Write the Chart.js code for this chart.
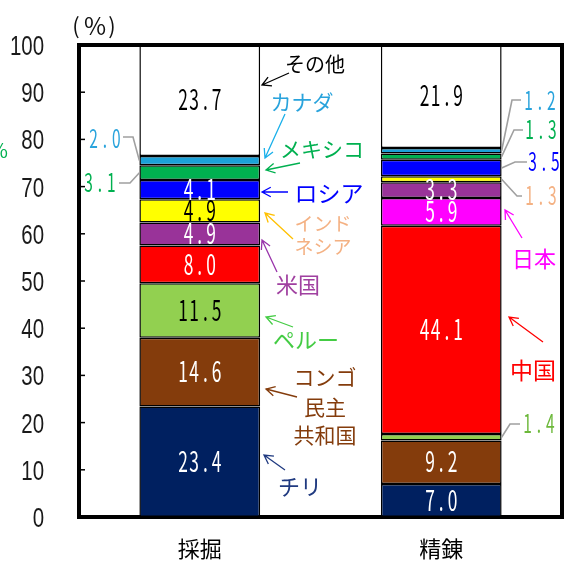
<!DOCTYPE html>
<html lang="ja">
<head>
<meta charset="utf-8">
<script src="https://cdn.jsdelivr.net/npm/chart.js@4"></script>
<style>
html, body { margin: 0; padding: 0; background: #fff; }
</style>
</head>
<body>
<canvas id="myChart" width="565" height="563"></canvas>
<script>
// 工程別の国別シェア（%）
var categories = ['採掘', '精錬'];
var countries = ['チリ', 'コンゴ民主共和国', 'ペルー', '中国', '日本', '米国', 'インドネシア', 'ロシア', 'メキシコ', 'カナダ', 'その他'];
var saikutsu = [23.4, 14.6, 11.5, 8.0, null, 4.9, 4.9, 4.1, 3.1, 2.0, 23.7];
var seiren = [7.0, 9.2, 1.4, 44.1, 5.9, 3.3, 1.3, 3.5, 1.3, 1.2, 21.9];
var yTicks = [0, 10, 20, 30, 40, 50, 60, 70, 80, 90, 100];

var fills = ['#002060', '#843c0c', '#92d050', '#ff0000', '#ff00ff', '#993399', '#ffff00', '#0000ff', '#00b050', '#1ba1d8', '#ffffff'];
var darkText = ['ペルー', 'インドネシア', 'その他'];

// 棒の外に出す値（引き出し線付き）
var outsideLabels = [
  { cat: 0, name: 'カナダ', side: 'left', text: [105, 139], color: '#29a3dc', path: [[133, 137], [123, 137]] },
  { cat: 0, name: 'メキシコ', side: 'left', text: [100, 183], color: '#00b050', path: [[130, 183], [119, 183]] },
  { cat: 1, name: 'カナダ', side: 'right', text: [540, 101], color: '#29a3dc', path: [[512, 100], [521, 100]] },
  { cat: 1, name: 'メキシコ', side: 'right', text: [541, 130], color: '#00b050', path: [[514, 130], [523, 130]] },
  { cat: 1, name: 'ロシア', side: 'right', text: [544, 162], color: '#0000ff', path: [[515, 162], [527, 162]] },
  { cat: 1, name: 'インドネシア', side: 'right', text: [541, 196], color: '#f4b183', path: [[517, 196], [522, 196]] },
  { cat: 1, name: 'ペルー', side: 'right', text: [539, 424], color: '#6cb83a', path: [[510, 424], [520, 424]] }
];

// 国名と矢印
var nameLabels = [
  { lines: ['その他'], x: 315, y: [64], size: 20, color: '#000000', tail: [289, 73], head: [262, 85], arrow: '#000000' },
  { lines: ['カナダ'], x: 302, y: [102], size: 21, color: '#29a3dc', tail: [285, 114], head: [265, 158], arrow: '#1ab0ea' },
  { lines: ['メキシコ'], x: 322, y: [149], size: 21, color: '#00b050', tail: [300, 163], head: [266, 170], arrow: '#00b050' },
  { lines: ['ロシア'], x: 329, y: [193], size: 23, color: '#0000ff', tail: [288, 192], head: [262, 192], arrow: '#0000ff' },
  { lines: ['インド', 'ネシア'], x: 323, y: [224, 247], size: 19, color: '#f4b183', tail: [293, 239], head: [265, 213], arrow: '#ffc000' },
  { lines: ['米国'], x: 298, y: [285], size: 22, color: '#a040a0', tail: [277, 272], head: [262, 240], arrow: '#9933aa' },
  { lines: ['ペルー'], x: 306, y: [340], size: 22, color: '#44cc44', tail: [293, 327], head: [266, 317], arrow: '#44cc44' },
  { lines: ['コンゴ', '民主', '共和国'], x: 325, y: [377, 407, 435], size: 21, color: '#843c0c', tail: [297, 397], head: [266, 389], arrow: '#843c0c' },
  { lines: ['チリ'], x: 300, y: [487], size: 22, color: '#203a80', tail: [285, 470], head: [264, 455], arrow: '#203a80' },
  { lines: ['日本'], x: 534, y: [259], size: 22, color: '#ff00ff', tail: [522, 238], head: [505, 210], arrow: '#ff00ff' },
  { lines: ['中国'], x: 533, y: [370], size: 23, color: '#ff0000', tail: [543, 342], head: [509, 317], arrow: '#ff0000' }
];

var JP = '"Noto Sans CJK JP", "Noto Sans CJK SC", sans-serif';

// 細身の等幅風に数字を描く
function monoText(ctx, s, cx, cy, adv, size, color) {
  ctx.save();
  ctx.fillStyle = color;
  ctx.font = size + 'px ' + JP;
  ctx.textAlign = 'center';
  ctx.textBaseline = 'alphabetic';
  var x0 = cx - adv * s.length / 2;
  for (var i = 0; i < s.length; i++) {
    ctx.save();
    ctx.translate(x0 + adv * (i + 0.5), cy + size * 0.36);
    ctx.scale(0.62, 1);
    ctx.fillText(s[i], 0, 0);
    ctx.restore();
  }
  ctx.restore();
}

function drawArrow(ctx, tail, head, color) {
  var ang = Math.atan2(head[1] - tail[1], head[0] - tail[0]);
  ctx.save();
  ctx.strokeStyle = color;
  ctx.lineWidth = 1.3;
  ctx.beginPath();
  ctx.moveTo(tail[0], tail[1]);
  ctx.lineTo(head[0], head[1]);
  ctx.moveTo(head[0] - 10 * Math.cos(ang - 0.5), head[1] - 10 * Math.sin(ang - 0.5));
  ctx.lineTo(head[0], head[1]);
  ctx.lineTo(head[0] - 10 * Math.cos(ang + 0.5), head[1] - 10 * Math.sin(ang + 0.5));
  ctx.stroke();
  ctx.restore();
}

function isOutside(cat, name) {
  return outsideLabels.some(function (o) { return o.cat === cat && o.name === name; });
}

var annotate = {
  id: 'annotate',
  afterDraw: function (chart) {
    var ctx = chart.ctx;
    var area = chart.chartArea;
    var yScale = chart.scales.y;

    // 枠（上・右）と内向きの目盛り、目盛りの数字
    ctx.save();
    ctx.strokeStyle = '#000';
    ctx.lineWidth = 4;
    ctx.beginPath();
    ctx.moveTo(area.left - 2, area.top);
    ctx.lineTo(area.right, area.top);
    ctx.lineTo(area.right, area.bottom + 2);
    ctx.stroke();
    ctx.lineWidth = 1.5;
    ctx.fillStyle = '#1a1a1a';
    ctx.font = '28px "Liberation Sans", Arial, sans-serif';
    ctx.textAlign = 'right';
    ctx.textBaseline = 'alphabetic';
    yScale.ticks.forEach(function (t, i) {
      var py = yScale.getPixelForTick(i);
      ctx.save();
      ctx.translate(44, py + 10);
      ctx.scale(0.73, 1);
      ctx.fillText(String(t.value), 0, 0);
      ctx.restore();
      if (t.value === 0 || t.value === 100) return;
      ctx.beginPath();
      ctx.moveTo(area.left, py);
      ctx.lineTo(area.left + 6, py);
      ctx.stroke();
    });
    ctx.restore();

    // 単位
    ctx.save();
    ctx.fillStyle = '#111';
    ctx.textAlign = 'center';
    ctx.textBaseline = 'middle';
    ctx.font = '22px ' + JP;
    ctx.fillText('(', 76, 26);
    ctx.fillText(')', 112, 26);
    ctx.font = '24px ' + JP;
    ctx.fillText('%', 95, 26);
    ctx.fillStyle = '#00b050';
    ctx.font = '20px ' + JP;
    ctx.textAlign = 'right';
    ctx.fillText('%', 8, 150);
    ctx.restore();

    // 棒の中の値
    chart.data.datasets.forEach(function (ds, di) {
      var meta = chart.getDatasetMeta(di);
      meta.data.forEach(function (bar, i) {
        var v = ds.data[i];
        if (!v || isOutside(i, ds.label)) return;
        var p = bar.getProps(['x', 'y', 'base'], true);
        var cy = (p.y + p.base) / 2;
        var col = darkText.indexOf(ds.label) >= 0 ? '#000' : '#fff';
        monoText(ctx, v.toFixed(1), p.x, cy, 11.2, 28, col);
      });
    });

    // 引き出し線付きの値
    outsideLabels.forEach(function (o) {
      var di = countries.indexOf(o.name);
      var ds = chart.data.datasets[di];
      var bar = chart.getDatasetMeta(di).data[o.cat];
      var p = bar.getProps(['x', 'y', 'base', 'width'], true);
      var sx = o.side === 'left' ? p.x - p.width / 2 : p.x + p.width / 2;
      var sy = (p.y + p.base) / 2;
      ctx.save();
      ctx.strokeStyle = '#a0a0a0';
      ctx.lineWidth = 1.6;
      ctx.beginPath();
      ctx.moveTo(sx, sy);
      o.path.forEach(function (pt) { ctx.lineTo(pt[0], pt[1]); });
      ctx.stroke();
      ctx.restore();
      monoText(ctx, ds.data[o.cat].toFixed(1), o.text[0], o.text[1], 11.4, 25, o.color);
    });

    // 国名
    nameLabels.forEach(function (n) {
      drawArrow(ctx, n.tail, n.head, n.arrow);
      ctx.save();
      ctx.fillStyle = n.color;
      ctx.font = n.size + 'px ' + JP;
      ctx.textAlign = 'center';
      ctx.textBaseline = 'middle';
      n.lines.forEach(function (line, k) {
        ctx.fillText(line, n.x, n.y[k]);
      });
      ctx.restore();
    });
  }
};

var myChart = new Chart(document.getElementById('myChart').getContext('2d'), {
  type: 'bar',
  data: {
    labels: categories,
    datasets: countries.map(function (c, k) {
      return {
        label: c,
        data: [saikutsu[k], seiren[k]],
        backgroundColor: fills[k],
        borderColor: '#000',
        borderWidth: 1.5,
        borderSkipped: false,
        barPercentage: 0.5,
        categoryPercentage: 1
      };
    })
  },
  options: {
    responsive: false,
    animation: false,
    layout: { padding: { top: 45, right: 3, left: 0, bottom: 0 } },
    plugins: { legend: { display: false }, tooltip: { enabled: false } },
    scales: {
      x: {
        stacked: true,
        grid: { display: false, drawTicks: false },
        border: { display: true, color: '#000', width: 4 },
        ticks: { color: '#000', font: { family: JP, size: 22 }, padding: 18 },
        afterFit: function (s) { s.height = 46; }
      },
      y: {
        stacked: true,
        min: 0,
        max: 100,
        afterBuildTicks: function (s) { s.ticks = yTicks.map(function (v) { return { value: v }; }); },
        grid: { display: false, drawTicks: false },
        border: { display: true, color: '#000', width: 4 },
        ticks: { display: false },
        afterFit: function (s) { s.width = 79; }
      }
    }
  },
  plugins: [annotate]
});
</script>
</body>
</html>
